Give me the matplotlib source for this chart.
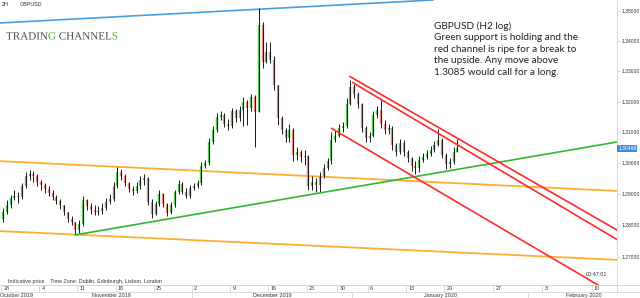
import matplotlib.pyplot as plt
import numpy as np
import pandas as pd
from matplotlib.ticker import NullLocator
from matplotlib.textpath import TextPath
from matplotlib.font_manager import FontProperties
from matplotlib.patches import PathPatch, Rectangle
from matplotlib.transforms import IdentityTransform

# GBPUSD, half-day candles (two per trading session) from Monday 28 Oct 2019
first_open = 1.2820
close = [
    1.2843, 1.2865, 1.2887, 1.2894, 1.2891, 1.2926, 1.2958, 1.2965, 1.2958, 1.2939,
    1.2929, 1.2916, 1.2903, 1.2891, 1.2878, 1.2865, 1.2843, 1.2820, 1.2811, 1.2786,
    1.2804, 1.2881, 1.2862, 1.2849, 1.2843, 1.2846, 1.2855, 1.2875, 1.2884, 1.2926,
    1.2971, 1.2958, 1.2936, 1.2916, 1.2910, 1.2926, 1.2945, 1.2952, 1.2875, 1.2836,
    1.2868, 1.2900, 1.2868, 1.2839, 1.2865, 1.2907, 1.2932, 1.2907, 1.2894, 1.2919,
    1.2926, 1.2936, 1.2990, 1.3000, 1.3068, 1.3107, 1.3149, 1.3156, 1.3126, 1.3120,
    1.3169, 1.3146, 1.3172, 1.3198, 1.3179, 1.3215, 1.3166, 1.3453, 1.3330, 1.3363,
    1.3337, 1.3254, 1.3146, 1.3107, 1.3081, 1.3107, 1.3026, 1.3036, 1.3019, 1.3023,
    1.2926, 1.2939, 1.2929, 1.2958, 1.2984, 1.3006, 1.3074, 1.3087, 1.3113, 1.3120,
    1.3192, 1.3248, 1.3225, 1.3192, 1.3113, 1.3081, 1.3087, 1.3156, 1.3172, 1.3126,
    1.3107, 1.3113, 1.3058, 1.3036, 1.3065, 1.3036, 1.3016, 1.2990, 1.2984, 1.3010,
    1.3019, 1.3029, 1.3042, 1.3058, 1.3074, 1.3026, 1.2997, 1.3003, 1.3036, 1.3047,
]
high = [
    1.2855, 1.2881, 1.2897, 1.2913, 1.2907, 1.2936, 1.2971, 1.2977, 1.2974, 1.2965,
    1.2945, 1.2936, 1.2926, 1.2913, 1.2897, 1.2884, 1.2865, 1.2843, 1.2830, 1.2811,
    1.2817, 1.2894, 1.2884, 1.2871, 1.2865, 1.2862, 1.2871, 1.2887, 1.2900, 1.2939,
    1.2987, 1.2981, 1.2965, 1.2939, 1.2926, 1.2939, 1.2958, 1.2965, 1.2955, 1.2884,
    1.2878, 1.2913, 1.2903, 1.2871, 1.2875, 1.2913, 1.2945, 1.2939, 1.2919, 1.2929,
    1.2936, 1.2945, 1.3003, 1.3010, 1.3081, 1.3120, 1.3162, 1.3169, 1.3162, 1.3143,
    1.3179, 1.3175, 1.3185, 1.3215, 1.3205, 1.3225, 1.3221, 1.3510, 1.3463, 1.3396,
    1.3396, 1.3350, 1.3254, 1.3153, 1.3113, 1.3126, 1.3113, 1.3052, 1.3042, 1.3042,
    1.3026, 1.2958, 1.2952, 1.2971, 1.2997, 1.3016, 1.3100, 1.3107, 1.3126, 1.3133,
    1.3211, 1.3271, 1.3257, 1.3231, 1.3195, 1.3120, 1.3100, 1.3169, 1.3185, 1.3205,
    1.3140, 1.3126, 1.3120, 1.3065, 1.3078, 1.3074, 1.3042, 1.3019, 1.3006, 1.3023,
    1.3032, 1.3042, 1.3055, 1.3071, 1.3110, 1.3081, 1.3032, 1.3016, 1.3052, 1.3078,
]
low = [
    1.2811, 1.2836, 1.2855, 1.2881, 1.2871, 1.2884, 1.2919, 1.2945, 1.2939, 1.2926,
    1.2913, 1.2903, 1.2894, 1.2881, 1.2868, 1.2852, 1.2833, 1.2811, 1.2801, 1.2770,
    1.2776, 1.2798, 1.2849, 1.2836, 1.2833, 1.2833, 1.2836, 1.2849, 1.2868, 1.2878,
    1.2919, 1.2945, 1.2926, 1.2907, 1.2897, 1.2903, 1.2916, 1.2929, 1.2865, 1.2823,
    1.2833, 1.2862, 1.2859, 1.2830, 1.2836, 1.2859, 1.2900, 1.2900, 1.2887, 1.2887,
    1.2913, 1.2919, 1.2929, 1.2984, 1.2994, 1.3062, 1.3100, 1.3140, 1.3117, 1.3107,
    1.3113, 1.3133, 1.3136, 1.3120, 1.3123, 1.3169, 1.3052, 1.3166, 1.3310, 1.3327,
    1.3327, 1.3238, 1.3123, 1.3094, 1.3068, 1.3068, 1.3006, 1.3010, 1.3003, 1.2994,
    1.2913, 1.2913, 1.2907, 1.2907, 1.2952, 1.2977, 1.2997, 1.3068, 1.3084, 1.3100,
    1.3113, 1.3189, 1.3211, 1.3179, 1.3100, 1.3068, 1.3068, 1.3084, 1.3146, 1.3113,
    1.3094, 1.3094, 1.3042, 1.3023, 1.3029, 1.3023, 1.3003, 1.2974, 1.2965, 1.2971,
    1.3003, 1.3013, 1.3023, 1.3036, 1.3055, 1.3016, 1.2981, 1.2984, 1.2997, 1.3039,
]
last_price = 1.30468

# drawn trend lines: (bar position, price) anchors
blue_top = ([-0.26, 113.1], [1.3460, 1.3537])
orange_upper = ([-0.26, 161.3], [1.3006, 1.2910])
orange_lower = ([-0.26, 161.3], [1.2782, 1.2691])
green_support = ([19.5, 161.3], [1.2770, 1.3068])
red_upper_1 = ([91.4, 161.2], [1.3282, 1.2786])
red_upper_2 = ([92.1, 161.2], [1.3262, 1.2756])
red_lower = ([86.6, 161.3], [1.3112, 1.2577])

price_levels = [1.27, 1.28, 1.29, 1.30, 1.31, 1.32, 1.33, 1.34, 1.35]
holidays = ["2019-12-25", "2020-01-01"]
week_starts = pd.date_range("2019-10-28", "2020-02-10", freq="W-MON")
month_starts = pd.to_datetime(["2019-11-01", "2019-12-01", "2020-01-01", "2020-02-01"])
month_names = ["October 2019", "November 2019", "December 2019", "January 2020", "February 2020"]

note = ("GBPUSD (H2 log)\nGreen support is holding and the\nred channel is ripe for a break to\n"
        "the upside. Any move above\n1.3085 would call for a long.")

sessions = pd.bdate_range("2019-10-28", "2020-01-22", freq="C", holidays=holidays)
last_week = pd.Timestamp("2020-01-20")


def date_x(d):
    # trading sessions are compressed, future dates follow the calendar
    if d <= last_week:
        return 2 * sessions.searchsorted(d)
    return 2 * sessions.searchsorted(last_week) + (d - last_week).days * 1.84


W, H = 640, 298
small = dict(fontsize=3.9, family="Liberation Sans", color="#333333")
fig = plt.figure(figsize=(6.4, 2.98), dpi=100)
ax = fig.add_axes([0, 13 / H, 617 / W, 285 / H])
x0 = -0.26
x1 = x0 + 617 / 3.819

o = np.array([first_open] + close[:-1])
c = np.array(close)
hi = np.maximum(np.array(high), np.maximum(o, c))
lo = np.minimum(np.array(low), np.minimum(o, c))
xs = np.arange(len(c)) + 0.5
up = c >= o

ax.vlines(xs[up], o[up], c[up], color="#5cc45c", lw=1.7, zorder=3)
ax.vlines(xs[~up], c[~up], o[~up], color="#f08585", lw=1.7, zorder=3)
ax.vlines(xs, lo, hi, color="#1a1a1a", lw=0.7, zorder=4)

ax.plot(*blue_top, color="#4a9fe0", lw=1.2, zorder=2)
ax.plot(*orange_upper, color="#ffa31a", lw=1.3, alpha=0.9, zorder=2)
ax.plot(*orange_lower, color="#ffa31a", lw=1.3, alpha=0.9, zorder=2)
ax.plot(*green_support, color="#2eb82e", lw=1.2, zorder=5)
for line in (red_upper_1, red_upper_2, red_lower):
    ax.plot(*line, color="#ff2a2a", lw=1.2, zorder=5)

ax.set_yscale("log")
ax.set_xlim(x0, x1)
ax.set_ylim(1.2612, 1.3537)
ax.yaxis.tick_right()
ax.set_yticks(price_levels)
ax.set_yticklabels([f"{v:.5f}" for v in price_levels], family="Liberation Sans")
ax.yaxis.set_minor_locator(NullLocator())
ax.tick_params(axis="y", length=2, width=0.5, color="#cccccc", labelsize=3.6,
               labelcolor="#333333", pad=1.5)
ax.set_xticks([])
for side in ("top", "left"):
    ax.spines[side].set_visible(False)
for side in ("right", "bottom"):
    ax.spines[side].set_color("#d5d5d5")
    ax.spines[side].set_linewidth(0.6)

ax.text(1.002, last_price, f"{last_price:.5f}", transform=ax.get_yaxis_transform(),
        fontsize=3.6, family="Liberation Sans", color="white", va="center", ha="left",
        bbox=dict(facecolor="#3d8fdc", edgecolor="none", pad=0.7), clip_on=False)

# date strip
axs = fig.add_axes([0, 0, 1, 13 / H])
axs.set_xlim(x0, x0 + W / 3.819)
axs.set_ylim(0, 2)
axs.axis("off")
axs.axhline(1, color="#d5d5d5", lw=0.6)
axs.axhline(2, color="#d5d5d5", lw=0.6)
for d in week_starts:
    wx = date_x(d)
    axs.vlines(wx, 1, 2, color="#d5d5d5", lw=0.6)
    axs.text(wx + 0.6, 1.5, str(d.day), va="center", **small)
axs.vlines(x1, 1, 2, color="#d5d5d5", lw=0.6)
bounds = [x0] + [date_x(d) for d in month_starts] + [x0 + W / 3.819]
for k, name in enumerate(month_names):
    if k > 0:
        axs.vlines(bounds[k], 0, 1, color="#d5d5d5", lw=0.6)
    if k == 0:
        axs.text(x0 + 0.1, 0.45, name, va="center", **small)
    else:
        axs.text((bounds[k] + bounds[k + 1]) / 2, 0.45, name, va="center", ha="center", **small)

# texts
fig.text(2 / W, 1 - 5 / H, "2H", va="center", **small)
fig.text(20 / W, 1 - 5 / H, "GBPUSD", va="center", **small)
fig.text(8 / W, 1 - 281.5 / H, "Indicative price    Time Zone: Dublin, Edinburgh, Lisbon, London",
         va="center", **small)
fig.text(607 / W, 1 - 274 / H, "00:47:01", va="center", ha="right", **small)
fig.text(434 / W, 1 - 21 / H, note, fontsize=7.2, family="Lato", color="#222222",
         va="top", linespacing=1.36)

# logo: one serif text path, coloured by clipping (gray, green G, gray, green S)
logo_text = "TRADING CHANNELS"
fp = FontProperties(family="Liberation Serif")
size_px = 8 * 100 / 72
lx, base = 6, H - 39.5


def ink_right(s):
    return TextPath((0, 0), s, size=size_px, prop=fp).get_extents().x1


logo_path = TextPath((lx, base), logo_text, size=size_px, prop=fp)
g0 = lx + ink_right("TRADIN") + 0.4
g1 = lx + ink_right("TRADING") + 0.4
s0 = lx + ink_right("TRADING CHANNEL") + 0.4
s1 = lx + ink_right(logo_text) + 3
for a, b, col in ((lx - 3, g0, "#4d4d4d"), (g0, g1, "#5aa84a"),
                  (g1, s0, "#4d4d4d"), (s0, s1, "#5aa84a")):
    patch = PathPatch(logo_path, facecolor=col, edgecolor="none", transform=IdentityTransform())
    fig.add_artist(patch)
    patch.set_clip_path(Rectangle((a, base - 6), b - a, 24, transform=IdentityTransform()))

fig.savefig("out.png", dpi=100)
